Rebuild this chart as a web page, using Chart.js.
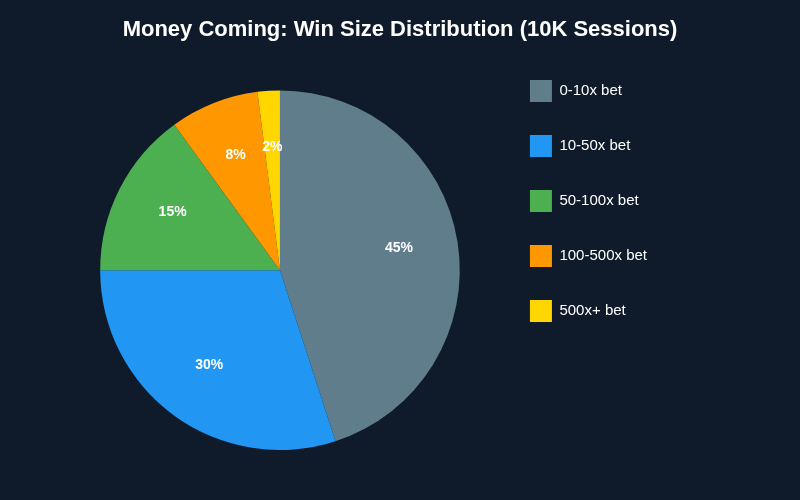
<!DOCTYPE html>
<html>
<head>
<meta charset="utf-8">
<script src="https://cdn.jsdelivr.net/npm/chart.js@4"></script>
<style>
html,body{margin:0;padding:0;background:#0f1b2a;}
#wrap{width:800px;height:500px;}
</style>
</head>
<body>
<div id="wrap"><canvas id="c" width="800" height="500"></canvas></div>
<script>
const categories = ['0-10x bet', '10-50x bet', '50-100x bet', '100-500x bet', '500x+ bet'];
const shares = [45, 30, 15, 8, 2];
const sliceColors = ['#607d8b', '#2196f3', '#4caf50', '#ff9800', '#ffd600'];
const titleText = 'Money Coming: Win Size Distribution (10K Sessions)';

const pctLabels = {
  id: 'pctLabels',
  afterDatasetsDraw(chart) {
    const ctx = chart.ctx;
    const meta = chart.getDatasetMeta(0);
    const data = chart.data.datasets[0].data;
    const total = data.reduce((a, b) => a + b, 0);
    ctx.save();
    ctx.fillStyle = '#ffffff';
    ctx.font = 'bold 14px "Liberation Sans", Arial, sans-serif';
    ctx.textAlign = 'center';
    ctx.textBaseline = 'middle';
    meta.data.forEach((arc, i) => {
      const p = arc.getProps(['x', 'y', 'startAngle', 'endAngle', 'outerRadius'], true);
      const mid = (p.startAngle + p.endAngle) / 2;
      const r = p.outerRadius * 0.67;
      const x = p.x + Math.cos(mid) * r;
      const y = p.y + Math.sin(mid) * r - 3;
      ctx.fillText(Math.round(data[i] / total * 100) + '%', x, y);
    });
    ctx.restore();
  }
};

const boxAdjust = {
  id: 'boxAdjust',
  afterLayout(chart) {
    if (chart.legend) {
      chart.legend.top = 47;
    }
    if (chart.titleBlock) {
      chart.titleBlock.left = 0;
      chart.titleBlock.right = chart.width;
      chart.titleBlock.width = chart.width;
    }
  }
};

new Chart(document.getElementById('c'), {
  type: 'pie',
  data: {
    labels: categories,
    datasets: [{
      data: shares,
      backgroundColor: sliceColors,
      borderWidth: 0
    }]
  },
  options: {
    responsive: false,
    animation: false,
    layout: { padding: { top: 10, bottom: 50, left: 63, right: 143 } },
    plugins: {
      title: {
        display: true,
        text: titleText,
        color: '#ffffff',
        font: { size: 22, weight: 'bold', family: '"Liberation Sans", Arial, sans-serif' },
        padding: { top: 7, bottom: 47 }
      },
      legend: {
        position: 'right',
        align: 'start',
        labels: {
          color: '#ffffff',
          boxWidth: 22,
          boxHeight: 22,
          padding: 33,
          font: { size: 15, family: '"Liberation Sans", Arial, sans-serif' }
        }
      },
      tooltip: { enabled: false }
    }
  },
  plugins: [pctLabels, boxAdjust]
});
</script>
</body>
</html>
